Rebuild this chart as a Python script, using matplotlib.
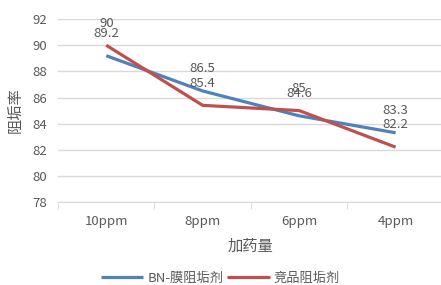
import numpy as np
import matplotlib.pyplot as plt

plt.rcParams['font.family'] = ['Noto Sans CJK SC', 'DejaVu Sans']

doses = ["10ppm", "8ppm", "6ppm", "4ppm"]
bn = [89.2, 86.5, 84.6, 83.3]
rival = [90, 85.4, 85, 82.2]
names = ["BN-膜阻垢剂", "竞品阻垢剂"]

grey = "#595959"
fig = plt.figure(figsize=(4.41, 2.85), dpi=100)
ax = fig.add_axes([0.1315, 0.291, 0.875, 0.642])

x = np.arange(len(doses))
ax.plot(x, bn, color="#4F81BD", lw=2.3, label=names[0], solid_capstyle="butt")
ax.plot(x, rival, color="#C0504D", lw=2.3, label=names[1], solid_capstyle="butt")

for xs, vals in [(x, bn), (x, rival)]:
    for xi, v in zip(xs, vals):
        ax.annotate("{:g}".format(v), (xi, v), xytext=(0, 16), textcoords="offset points",
                    ha="center", va="center", fontsize=9.5, color=grey)

ax.set_xlim(-0.5, 3.5)
ax.set_ylim(78, 92)
ax.set_yticks(np.arange(78, 93, 2))
ax.set_xticks(x)
ax.set_xticklabels(doses)
ax.set_xticks(np.arange(-0.5, 3.6, 1), minor=True)
ax.tick_params(axis="x", which="major", length=0, pad=9, labelsize=9.5, labelcolor=grey)
ax.tick_params(axis="x", which="minor", length=5, color="#D9D9D9", direction="out")
ax.tick_params(axis="y", length=0, pad=8, labelsize=9.5, labelcolor=grey)
ax.grid(axis="y", color="#D9D9D9", lw=1)
ax.set_axisbelow(True)
for s in ["top", "right", "left"]:
    ax.spines[s].set_visible(False)
ax.spines["bottom"].set_color("#D9D9D9")

ax.set_xlabel("加药量", fontsize=11, color=grey, labelpad=7)
ax.set_ylabel("阻垢率", fontsize=11, color=grey, labelpad=6)

fig.legend(loc="lower center", bbox_to_anchor=(0.5, -0.04), ncol=2, frameon=False,
           fontsize=9.5, labelcolor=grey, handlelength=3.2, handletextpad=0.3, columnspacing=0.3)

fig.savefig("out.png", dpi=100)
